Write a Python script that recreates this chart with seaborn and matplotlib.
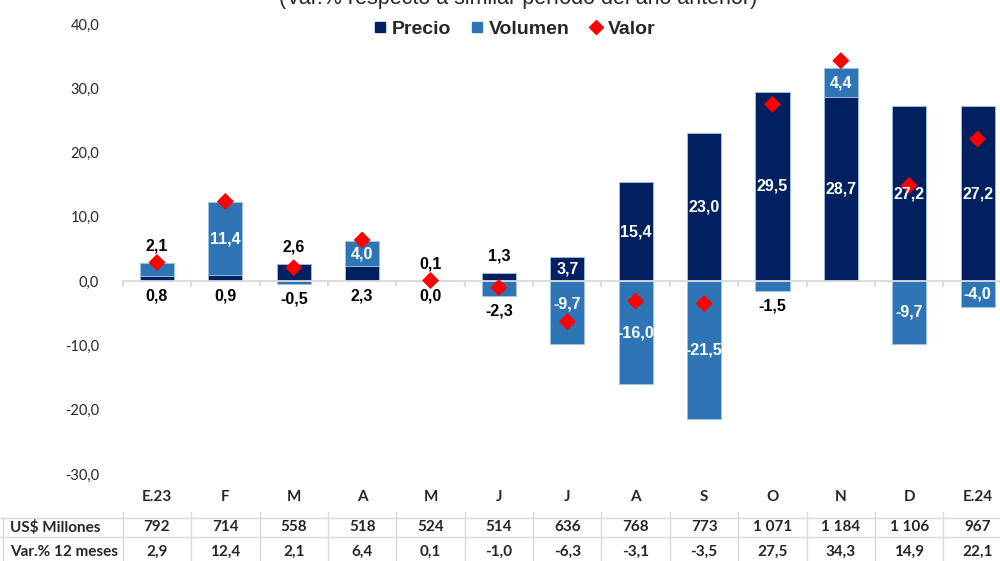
import numpy as np
import pandas as pd
import seaborn as sns
import matplotlib.pyplot as plt
from matplotlib.lines import Line2D
from matplotlib.ticker import FuncFormatter
import matplotlib.transforms as mtrans

meses = ['E.23', 'F', 'M', 'A', 'M', 'J', 'J', 'A', 'S', 'O', 'N', 'D', 'E.24']
precio = [0.8, 0.9, 2.6, 2.3, 0.0, 1.3, 3.7, 15.4, 23.0, 29.5, 28.7, 27.2, 27.2]
volumen = [2.1, 11.4, -0.5, 4.0, 0.1, -2.3, -9.7, -16.0, -21.5, -1.5, 4.4, -9.7, -4.0]
valor = [2.9, 12.4, 2.1, 6.4, 0.1, -1.0, -6.3, -3.1, -3.5, 27.5, 34.3, 14.9, 22.1]
millones = ['792', '714', '558', '518', '524', '514', '636', '768', '773', '1 071', '1 184', '1 106', '967']
var12 = ['2,9', '12,4', '2,1', '6,4', '0,1', '-1,0', '-6,3', '-3,1', '-3,5', '27,5', '34,3', '14,9', '22,1']

# where each data label goes
precio_lbl = ['below', 'below', 'above', 'below', 'below', 'above', 'in', 'in', 'in', 'in', 'in', 'in', 'in']
vol_lbl = ['above', 'in', 'below', 'in', 'above', 'below', 'end', 'in', 'in', 'below', 'in', 'in', 'in']

oscuro = '#002060'
claro = '#2E75B6'
rojo = '#FF0000'
gris = '#d9d9d9'

sns.set_theme(style='white')
plt.rcParams['font.family'] = ['Liberation Sans', 'DejaVu Sans']

df = pd.DataFrame({'pos': np.arange(len(meses)), 'mes': meses, 'precio': precio,
                   'volumen': volumen, 'valor': valor})
df['base_vol'] = np.where(df.volumen > 0, df.precio, 0.0)
df['top'] = df.precio + df.volumen.clip(lower=0)
df['bottom'] = df.volumen.clip(upper=0)

fig = plt.figure(figsize=(10, 5.61), dpi=100)
ax = fig.add_axes([0.1228, 1 - 474 / 561, 0.889, 450 / 561])

sns.barplot(data=df, x='pos', y='precio', color=oscuro, width=0.5, saturation=1,
            edgecolor='#9dc3e6', linewidth=0.6, ax=ax, zorder=2)
ax.bar(df.pos, df.volumen, bottom=df.base_vol, width=0.5, color=claro,
       edgecolor='#9dc3e6', linewidth=0.6, zorder=2)
sns.scatterplot(data=df, x='pos', y='valor', marker='D', color=rojo, s=75,
                edgecolor='none', ax=ax, zorder=4)

ax.set_xlim(-0.5, len(meses) - 0.5)
ax.set_ylim(-30, 40)
ax.set_yticks(range(-30, 41, 10))
ax.yaxis.set_major_formatter(FuncFormatter(lambda v, p: f'{v:.1f}'.replace('.', ',')))
ax.tick_params(axis='y', length=0, pad=17, labelsize=10.5, labelcolor='#262626')
for t in ax.get_yticklabels():
    t.set_fontfamily(['Lato', 'DejaVu Sans'])
ax.set_xticks([])
ax.set_xlabel('')
ax.set_ylabel('')
for s in ax.spines.values():
    s.set_visible(False)

# zero line with category ticks
ax.axhline(0, color=gris, lw=1.3, zorder=3)
for i in range(len(meses) + 1):
    ax.plot([i - 0.5, i - 0.5], [0, -0.8], color=gris, lw=1.3, zorder=3, clip_on=False)

# data labels
def etiqueta(x, y, txt, modo, anchor_top, anchor_bot):
    kw = dict(ha='center', va='center', fontsize=11.5, fontweight='bold', zorder=5)
    if modo == 'in':
        ax.annotate(txt, (x, y), color='white', **kw)
    elif modo == 'end':
        ax.annotate(txt, (x, 0), xytext=(0, -23), textcoords='offset pixels', color='white', **kw)
    elif modo == 'above':
        ax.annotate(txt, (x, anchor_top), xytext=(0, 17), textcoords='offset pixels', color='black', **kw)
    else:
        ax.annotate(txt, (x, anchor_bot), xytext=(0, -15), textcoords='offset pixels', color='black', **kw)

for r in df.itertuples():
    etiqueta(r.pos, r.precio / 2, f'{r.precio:.1f}'.replace('.', ','), precio_lbl[r.pos], r.top, r.bottom)
    etiqueta(r.pos, r.base_vol + r.volumen / 2, f'{r.volumen:.1f}'.replace('.', ','), vol_lbl[r.pos], r.top, r.bottom)

# table under the chart
tr = mtrans.blended_transform_factory(ax.transData, fig.transFigure)
fy = lambda px: 1 - px / 561
tabla_font = ['Lato', 'DejaVu Sans']
for i, m in enumerate(meses):
    ax.text(i, fy(497), m, transform=tr, ha='center', va='center', fontsize=11,
            fontweight='bold', family=tabla_font, clip_on=False)
    ax.text(i, fy(527), millones[i], transform=tr, ha='center', va='center', fontsize=11,
            fontweight='bold', family=tabla_font, clip_on=False)
    ax.text(i, fy(552), var12[i], transform=tr, ha='center', va='center', fontsize=11,
            fontweight='bold', family=tabla_font, clip_on=False)
fig.text(0.010, fy(527), 'US$ Millones', ha='left', va='center', fontsize=11,
         fontweight='bold', family=tabla_font)
fig.text(0.010, fy(552), 'Var.% 12 meses', ha='left', va='center', fontsize=11,
         fontweight='bold', family=tabla_font)
for i in range(len(meses) + 1):
    ax.plot([i - 0.5, i - 0.5], [fy(512), 0], transform=tr, color=gris, lw=1, clip_on=False)
fig.add_artist(Line2D([0.003, 0.003], [fy(518), 0], color=gris, lw=1))
fig.add_artist(Line2D([0, 1], [fy(518), fy(518)], color=gris, lw=1))
fig.add_artist(Line2D([0, 1], [fy(537), fy(537)], color=gris, lw=1))

# title (cut at the top as in the original)
fig.text(0.518, fy(4), '(Var.% respecto a similar período del año anterior)', ha='center',
         va='baseline', fontsize=15.5, color='#262626')

# legend
handles = [Line2D([], [], marker='s', ls='none', color=oscuro, markersize=7.5),
           Line2D([], [], marker='s', ls='none', color=claro, markersize=7.5),
           Line2D([], [], marker='D', ls='none', color=rojo, markersize=7.5)]
fig.legend(handles, ['Precio', 'Volumen', 'Valor'], loc='center', bbox_to_anchor=(0.513, fy(29)),
           ncol=3, frameon=False, handletextpad=0.15, columnspacing=0.9, handlelength=0.9,
           prop={'weight': 'bold', 'size': 14})

fig.savefig('out.png', dpi=100)
